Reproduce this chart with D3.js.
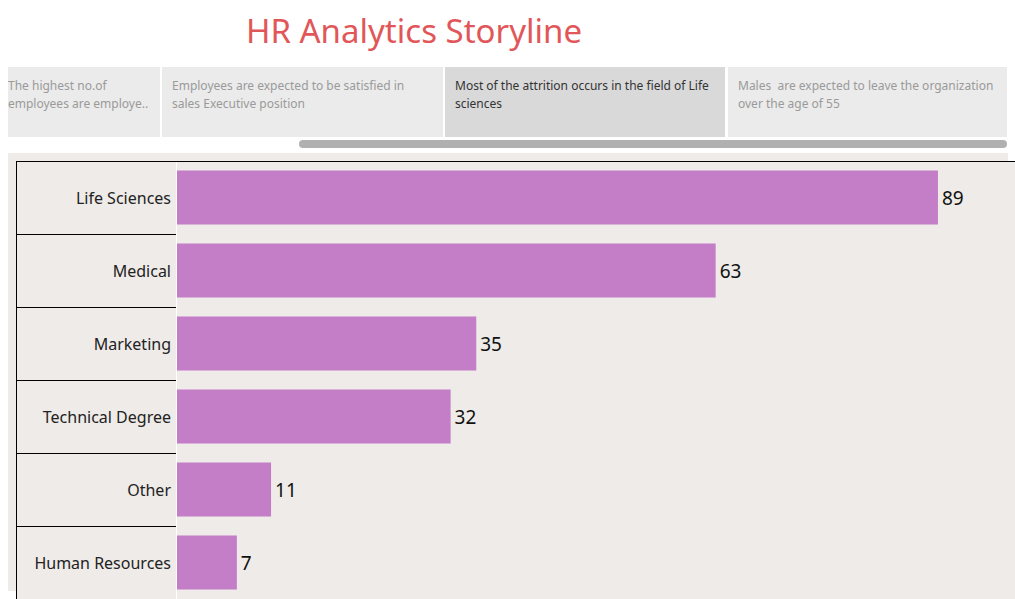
<!DOCTYPE html>
<html>
<head>
<meta charset="utf-8">
<script src="https://cdn.jsdelivr.net/npm/d3@7"></script>
<style>
  body { margin: 0; background: #fff; }
  svg { display: block; font-family: "Noto Sans", sans-serif; }
  text { white-space: pre; }
</style>
</head>
<body>
<script>
// data
const fields = ["Life Sciences", "Medical", "Marketing", "Technical Degree", "Other", "Human Resources"];
const attrition = [89, 63, 35, 32, 11, 7];
const storyPoints = [
  ["The highest no.of", "employees are employe.."],
  ["Employees are expected to be satisfied in", "sales Executive position"],
  ["Most of the attrition occurs in the field of Life", "sciences"],
  ["Males  are expected to leave the organization", "over the age of 55"]
];
const selectedPoint = 2;

const width = 1015, height = 599;

let svg = d3.select("body")
    .append("svg")
    .attr("width", width)
    .attr("height", height);

// title
svg.append("text")
    .attr("x", 414)
    .attr("y", 43)
    .style("text-anchor", "middle")
    .style("font-size", "33px")
    .style("fill", "#e15759")
    .text("HR Analytics Storyline");

// story tabs
const tabX = [8, 162, 445, 728];
const tabW = [152, 281, 280, 279];
const tabPad = [0, 10, 10, 10];
let tabs = svg.append("g").selectAll("g")
    .data(storyPoints)
    .enter()
    .append("g");

tabs.append("rect")
    .attr("x", (d, i) => tabX[i])
    .attr("y", 67)
    .attr("width", (d, i) => tabW[i])
    .attr("height", 70)
    .attr("fill", (d, i) => i == selectedPoint ? "#d9d9d9" : "#ebebeb");

tabs.each(function (d, i) {
    d3.select(this).selectAll("text")
        .data(d)
        .enter()
        .append("text")
        .attr("x", tabX[i] + tabPad[i])
        .attr("y", (t, j) => 90 + j * 18)
        .style("font-size", "12px")
        .style("fill", i == selectedPoint ? "#333" : "#9a9a9a")
        .text(t => t);
});

// scrollbar
svg.append("rect")
    .attr("x", 299)
    .attr("y", 140)
    .attr("width", 708)
    .attr("height", 8)
    .attr("rx", 4)
    .attr("fill", "#b0b0b0");

// chart background
svg.append("rect")
    .attr("x", 8)
    .attr("y", 153)
    .attr("width", 1000)
    .attr("height", 438)
    .attr("fill", "#eeebe8");
svg.append("rect")
    .attr("x", 16)
    .attr("y", 161)
    .attr("width", width - 16)
    .attr("height", height - 161)
    .attr("fill", "#eeebe8");

// scales
let y = d3.scaleBand()
    .domain(fields)
    .range([161, 599])
    .paddingInner(0.26)
    .paddingOuter(0.13);

let x = d3.scaleLinear()
    .domain([0, 100])
    .range([177, 1032]);

const rowH = (599 - 161) / fields.length;

// row header lines
svg.append("g").selectAll("line")
    .data(fields.slice(1))
    .enter()
    .append("line")
    .attr("x1", 16)
    .attr("x2", 176)
    .attr("y1", (d, i) => 161 + (i + 1) * rowH + 0.5)
    .attr("y2", (d, i) => 161 + (i + 1) * rowH + 0.5)
    .attr("stroke", "#000");

svg.append("line")
    .attr("x1", 176.5).attr("x2", 176.5)
    .attr("y1", 161).attr("y2", 599)
    .attr("stroke", "#fff");

svg.append("line")
    .attr("x1", 16).attr("x2", width)
    .attr("y1", 161.5).attr("y2", 161.5)
    .attr("stroke", "#000");

svg.append("line")
    .attr("x1", 16.5).attr("x2", 16.5)
    .attr("y1", 161).attr("y2", 599)
    .attr("stroke", "#000");

// bars
svg.append("g").selectAll("rect")
    .data(fields)
    .enter()
    .append("rect")
    .attr("x", x(0))
    .attr("y", d => y(d))
    .attr("width", (d, i) => x(attrition[i]) - x(0))
    .attr("height", y.bandwidth())
    .attr("fill", "#c47dc7");

// value labels
svg.append("g").selectAll("text")
    .data(fields)
    .enter()
    .append("text")
    .attr("x", (d, i) => x(attrition[i]) + 4)
    .attr("y", d => y(d) + y.bandwidth() / 2 + 7)
    .style("font-size", "19px")
    .style("fill", "#111")
    .text((d, i) => attrition[i]);

// row labels
svg.append("g").selectAll("text")
    .data(fields)
    .enter()
    .append("text")
    .attr("x", 171)
    .attr("y", d => y(d) + y.bandwidth() / 2 + 6)
    .style("text-anchor", "end")
    .style("font-size", "16px")
    .style("fill", "#222")
    .text(d => d);
</script>
</body>
</html>
